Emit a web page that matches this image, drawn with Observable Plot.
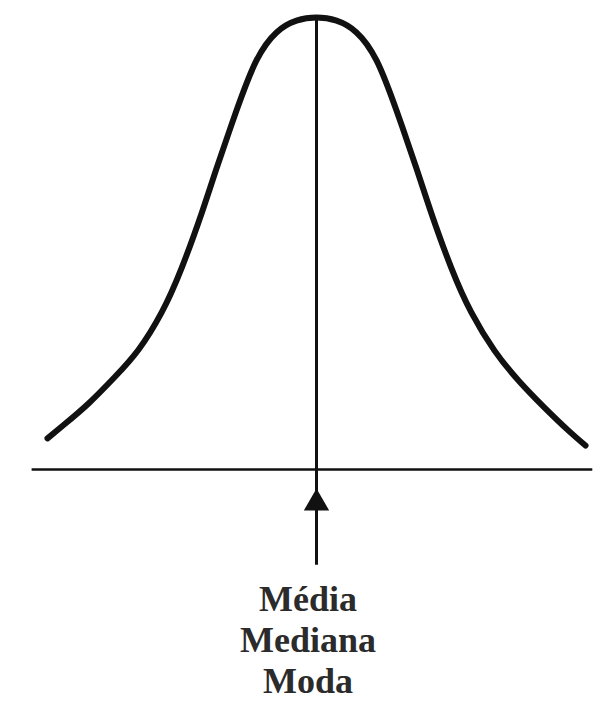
<!DOCTYPE html>
<html>
<head>
<meta charset="utf-8">
<script src="https://cdn.jsdelivr.net/npm/d3@7"></script>
<script src="https://cdn.jsdelivr.net/npm/@observablehq/plot@0.6"></script>
<style>
  html, body { margin: 0; padding: 0; background: #ffffff; }
  #chart svg { display: block; }
  .labels {
    width: 602px;
    box-sizing: border-box;
    padding-left: 14px;
    text-align: center;
    font-family: "Liberation Serif", "Times New Roman", serif;
    font-weight: bold;
    font-size: 36px;
    line-height: 41px;
    color: #2b2b2b;
  }
</style>
</head>
<body>
<div id="chart"></div>
<script>
// Curve: x in standard deviations from the mean, y as relative height (peak = 1)
const curveX = [-2.989, -2.800, -2.533, -2.244, -1.978, -1.722, -1.500, -1.278, -1.111, -0.889, -0.667, -0.444, -0.222, 0.000,
                 0.222, 0.444, 0.667, 0.889, 1.111, 1.278, 1.500, 1.722, 1.978, 2.244, 2.533, 2.800, 2.989];
const curveY = [0.069, 0.100, 0.146, 0.204, 0.265, 0.347, 0.445, 0.566, 0.666, 0.794, 0.905, 0.967, 0.993, 1.000,
                0.993, 0.967, 0.905, 0.794, 0.666, 0.566, 0.445, 0.347, 0.263, 0.197, 0.137, 0.086, 0.053];
const meanX = [0];              // média = mediana = moda
const peakY = [1];
const axisExtent = [-3.16, 3.07];  // horizontal axis span
const arrowTipY = [-0.042];
const arrowTailY = [-0.212];
const labels = ["Média", "Mediana", "Moda"];

const curve = curveX.map((x, i) => ({x, y: curveY[i]}));

const chart = Plot.plot({
  width: 602,
  height: 579,
  margin: 0,
  x: {domain: [-3, 3], range: [46, 586], axis: null},
  y: {domain: [0, 1], range: [469, 17], axis: null},
  marks: [
    Plot.ruleY([0], {x1: axisExtent[0], x2: axisExtent[1], stroke: "#111", strokeWidth: 2.6}),
    Plot.ruleX(meanX, {x: d => d, y1: peakY[0], y2: arrowTailY[0], stroke: "#111", strokeWidth: 3}),
    Plot.dot(meanX, {x: d => d, y: arrowTipY[0], symbol: "triangle", r: 9.4, fill: "#111", stroke: "none", dy: 14.7}),
    Plot.line(curve, {x: "x", y: "y", curve: "natural", stroke: "#111", strokeWidth: 6, strokeLinecap: "round", strokeLinejoin: "round"})
  ]
});
document.getElementById("chart").appendChild(chart);

const lab = document.createElement("div");
lab.className = "labels";
labels.forEach(t => {
  const d = document.createElement("div");
  d.textContent = t;
  lab.appendChild(d);
});
document.getElementById("chart").appendChild(lab);
</script>
</body>
</html>
